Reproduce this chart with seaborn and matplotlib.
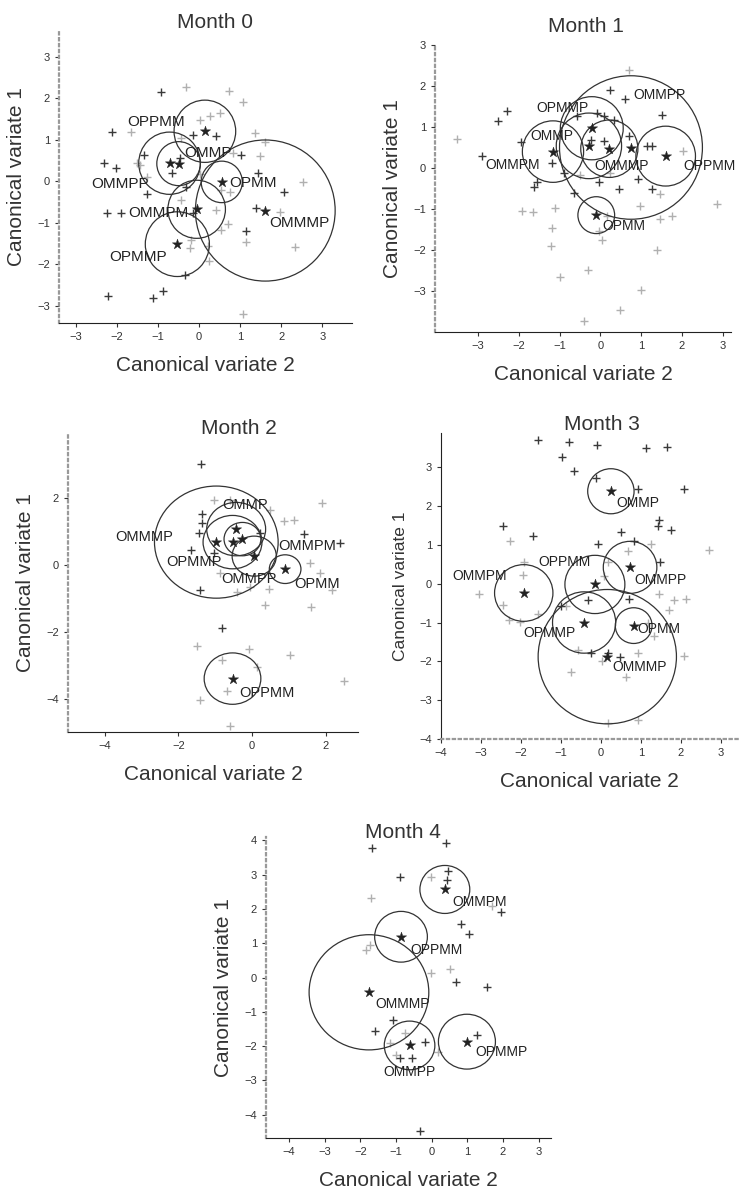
import numpy as np
import pandas as pd
import seaborn as sns
import matplotlib.pyplot as plt
from matplotlib.patches import Circle

# ---- Month 0 ----
m0_dark_x = [-0.93, -2.13, -1.35, -2.31, -2.03, -1.28, -0.67, -0.47, -0.16, 0.42, 1.01, 1.44, 2.06, 1.38,
             1.15, -0.35, -0.88, -1.12, -2.21, -1.91, -2.24, -0.15, -0.31]
m0_dark_y = [2.15, 1.19, 0.64, 0.44, 0.32, -0.30, 0.20, 0.55, 1.11, 1.08, 0.64, 0.19, -0.26, -0.66,
             -1.20, -2.27, -2.66, -2.81, -2.78, -0.78, -0.78, -0.78, -0.14]
m0_light_x = [-0.32, 0.72, 1.07, 0.02, 0.26, 0.50, 1.35, 1.60, 1.48, 0.83, -1.44, -1.52, -1.28, 0.02, 0.54,
              0.75, 0.42, 0.71, 0.54, -0.19, 0.22, 0.24, 1.15, 2.33, 1.96, 2.53, -0.43, -1.65, 1.07, -0.43, -0.23]
m0_light_y = [2.26, 2.17, 1.91, 1.48, 1.56, 1.63, 1.15, 0.95, 0.60, 0.67, 0.39, 0.43, 0.10, 0.18, -0.22,
              -0.26, -0.70, -1.04, -1.18, -1.42, -1.56, -1.92, -1.48, -1.58, -0.75, -0.02, -0.46, 1.19, -3.2, 1.03, -1.62]
m0_groups = ['OMMP', 'OPPMM', 'OMMPP', 'OPMM', 'OMMPM', 'OPMMP', 'OMMMP']
m0_mean_x = [0.14, -0.72, -0.50, 0.55, -0.06, -0.53, 1.61]
m0_mean_y = [1.20, 0.43, 0.42, -0.02, -0.68, -1.52, -0.71]
m0_radius = [0.75, 0.75, 0.53, 0.50, 0.70, 0.78, 1.70]
m0_label_x = [0.22, -1.04, -1.93, 1.31, -1.00, -1.48, 2.45]
m0_label_y = [0.67, 1.43, -0.06, -0.04, -0.78, -1.82, -1.00]

# ---- Month 1 ----
m1_dark_x = [-2.29, -2.50, -2.89, -1.95, -1.63, -1.56, -1.18, -0.88, -0.65, -0.57, 0.08, 0.24, 0.61, 1.50,
             1.26, 1.14, 0.93, 1.26, 0.45, -0.04, 0.69, -0.08, 0.33, -0.24, 0.08]
m1_dark_y = [1.40, 1.14, 0.30, 0.63, -0.47, -0.33, 0.12, -0.12, -0.61, 1.26, 1.26, 1.91, 1.68, 1.30,
             0.53, 0.53, -0.28, -0.51, -0.51, -0.33, 0.77, 1.34, 1.18, 0.69, 0.65]
m1_light_x = [-3.50, -1.91, -1.64, -1.10, -1.18, -1.22, -0.98, -0.30, 0.04, 0.16, -0.04, 0.98, 1.46, 1.45,
              1.75, 1.38, 1.00, 0.49, -0.41, 2.85, 0.69, 2.03, -0.49, 0.24]
m1_light_y = [0.71, -1.04, -1.07, -0.98, -1.47, -1.91, -2.67, -2.48, -1.75, -1.18, -1.54, -0.93, -0.63, -1.24,
              -1.16, -1.99, -2.97, -3.46, -3.74, -0.87, 2.40, 0.41, -0.16, -0.12]
m1_groups = ['OPMMP', 'OMMP', 'OMMPM', 'OMMMP', 'OMMPP', 'OPPMM', 'OPMM']
m1_mean_x = [-0.21, -1.16, -0.28, 0.22, 0.75, 1.60, -0.10]
m1_mean_y = [0.97, 0.40, 0.54, 0.47, 0.50, 0.29, -1.15]
m1_radius = [0.77, 0.75, 0.80, 0.70, 1.75, 0.73, 0.45]
m1_label_x = [-0.93, -1.18, -2.15, 0.53, 1.46, 2.68, 0.57]
m1_label_y = [1.46, 0.77, 0.07, 0.06, 1.79, 0.06, -1.42]

# ---- Month 2 ----
m2_dark_x = [-1.38, -1.37, -1.37, -1.45, -1.66, -1.42, -0.81, 1.40, 2.40, -1.04, 0.23]
m2_dark_y = [3.04, 1.54, 1.26, 0.95, 0.45, -0.73, -1.88, 0.93, 0.65, 0.35, 0.95]
m2_light_x = [-1.04, -0.59, 0.50, 1.13, 1.90, 1.58, 1.86, 2.17, 1.60, 0.36, 0.45, -0.41, 2.51, -1.49, -0.09,
              1.04, -1.40, -0.59, -0.68, -0.81, 0.14, -0.86, -0.05, 0.86]
m2_light_y = [1.96, 1.96, 1.66, 1.36, 1.86, 0.05, -0.23, -0.75, -1.26, -1.20, -0.70, -0.80, -3.48, -2.41, -2.51,
              -2.69, -4.05, -4.82, -3.77, -2.84, -3.06, -0.25, -0.65, 1.31]
m2_groups = ['OMMP', 'OMMMP', 'OMMPM', 'OPMMP', 'OMMPP', 'OPMM', 'OPPMM']
m2_mean_x = [-0.43, -0.97, 0.06, -0.53, -0.26, 0.90, -0.53]
m2_mean_y = [1.08, 0.69, 0.27, 0.69, 0.78, -0.12, -3.40]
m2_radius = [0.80, 1.68, 0.60, 0.80, 0.50, 0.43, 0.77]
m2_label_x = [-0.18, -2.94, 1.49, -1.58, -0.09, 1.76, 0.41]
m2_label_y = [1.81, 0.85, 0.58, 0.08, -0.43, -0.55, -3.82]

# ---- Month 3 ----
m3_dark_x = [-1.57, -0.79, -0.10, 1.13, 1.65, -0.98, -0.68, -0.12, 0.92, 2.08, -2.46, -1.71, 0.50, 1.46,
             1.43, 1.75, -0.07, 0.83, 1.48, -0.32, 0.71, -0.25, 0.17, 0.48, -1.00]
m3_dark_y = [3.69, 3.66, 3.56, 3.49, 3.53, 3.26, 2.89, 2.72, 2.44, 2.44, 1.49, 1.23, 1.32, 1.65,
             1.48, 1.37, 1.03, 1.11, 0.57, -0.43, -0.39, -1.78, -1.78, -1.89, -0.58]
m3_light_x = [-2.27, 2.71, -1.92, -1.96, -3.04, -2.46, -2.29, -2.03, -1.58, -0.88, 0.08, 0.17, 0.67, 1.25,
              1.46, 1.83, 2.13, 1.71, 1.33, 2.08, 0.92, 0.04, -0.75, 0.63, 0.92, -0.58, 0.17, 1.17]
m3_light_y = [1.09, 0.87, 0.57, 0.23, -0.26, -0.54, -0.94, -0.99, -0.77, -0.58, 0.19, 0.55, 0.83, 1.03,
              -0.26, -0.43, -0.39, -0.67, -1.36, -1.87, -1.78, -2.00, -2.28, -2.40, -3.50, -1.70, -3.58, -1.00]
m3_groups = ['OMMP', 'OMMPM', 'OPPMM', 'OMMPP', 'OPMMP', 'OPMM', 'OMMMP']
m3_mean_x = [0.25, -1.93, -0.15, 0.73, -0.42, 0.82, 0.16]
m3_mean_y = [2.38, -0.24, -0.02, 0.42, -1.00, -1.08, -1.88]
m3_radius = [0.58, 0.73, 0.75, 0.67, 0.79, 0.46, 1.73]
m3_label_x = [0.92, -3.04, -0.92, 1.48, -1.29, 1.46, 0.96]
m3_label_y = [2.08, 0.21, 0.57, 0.10, -1.27, -1.18, -2.14]

# ---- Month 4 ----
m4_dark_x = [-1.67, 0.41, -0.88, 0.46, 0.43, 1.96, 1.05, 0.83, 1.54, 0.69, -1.60, -1.09, -0.20, 1.26,
             -0.34, -0.54, -0.90]
m4_dark_y = [3.77, 3.93, 2.93, 3.12, 2.85, 1.91, 1.28, 1.55, -0.27, -0.13, -1.55, -1.24, -1.87, -1.68,
             -4.47, -2.36, -2.36]
m4_light_x = [-1.70, -1.84, -1.74, -0.01, 0.51, -0.01, -0.76, 0.18, 1.68, -0.99, -1.18]
m4_light_y = [2.33, 0.80, 0.94, 2.93, 0.26, 0.12, -1.61, -2.16, 2.10, -2.26, -1.92]
m4_groups = ['OMMPM', 'OPPMM', 'OMMMP', 'OMMPP', 'OPMMP']
m4_mean_x = [0.37, -0.86, -1.76, -0.62, 0.99]
m4_mean_y = [2.57, 1.19, -0.43, -1.98, -1.87]
m4_radius = [0.70, 0.74, 1.68, 0.71, 0.80]
m4_label_x = [1.35, 0.13, -0.81, -0.62, 1.96]
m4_label_y = [2.20, 0.80, -0.76, -2.76, -2.16]

sns.set_style('ticks')
plt.rcParams['font.family'] = ['Liberation Sans', 'DejaVu Sans']

W, H = 748, 1197
fig = plt.figure(figsize=(W / 100, H / 100), dpi=100)


def px_rect(left, top, right, bottom):
    return [left / W, 1 - bottom / H, (right - left) / W, (bottom - top) / H]


panels = [
    dict(title='Month 0', rect=px_rect(59, 30, 352, 323), tpos=(215, 23),
         xlim=(-3.41, 3.72), ylim=(-3.42, 3.64), xticks=range(-3, 4), yticks=range(-3, 4),
         dx=m0_dark_x, dy=m0_dark_y, lx=m0_light_x, ly=m0_light_y, groups=m0_groups,
         mx=m0_mean_x, my=m0_mean_y, r=m0_radius, tx=m0_label_x, ty=m0_label_y, fs=11),
    dict(title='Month 1', rect=px_rect(435, 45, 731, 332), tpos=(586, 27),
         xlim=(-4.05, 3.2), ylim=(-4.0, 3.0), xticks=range(-3, 4), yticks=range(-3, 4),
         dx=m1_dark_x, dy=m1_dark_y, lx=m1_light_x, ly=m1_light_y, groups=m1_groups,
         mx=m1_mean_x, my=m1_mean_y, r=m1_radius, tx=m1_label_x, ty=m1_label_y, fs=10),
    dict(title='Month 2', rect=px_rect(68, 433, 358, 732), tpos=(239, 428),
         xlim=(-5.0, 2.88), ylim=(-5.0, 3.96), xticks=[-4, -2, 0, 2], yticks=[-4, -2, 0, 2],
         dx=m2_dark_x, dy=m2_dark_y, lx=m2_light_x, ly=m2_light_y, groups=m2_groups,
         mx=m2_mean_x, my=m2_mean_y, r=m2_radius, tx=m2_label_x, ty=m2_label_y, fs=10.5),
    dict(title='Month 3', rect=px_rect(441, 433, 738, 739), tpos=(602, 425),
         xlim=(-4.0, 3.43), ylim=(-4.0, 3.88), xticks=range(-4, 4), yticks=range(-4, 4),
         dx=m3_dark_x, dy=m3_dark_y, lx=m3_light_x, ly=m3_light_y, groups=m3_groups,
         mx=m3_mean_x, my=m3_mean_y, r=m3_radius, tx=m3_label_x, ty=m3_label_y, fs=10),
    dict(title='Month 4', rect=px_rect(266, 837, 551, 1138), tpos=(403, 832),
         xlim=(-4.65, 3.35), ylim=(-4.68, 4.1), xticks=range(-4, 4), yticks=range(-4, 5),
         dx=m4_dark_x, dy=m4_dark_y, lx=m4_light_x, ly=m4_light_y, groups=m4_groups,
         mx=m4_mean_x, my=m4_mean_y, r=m4_radius, tx=m4_label_x, ty=m4_label_y, fs=10),
]

for i, p in enumerate(panels):
    ax = fig.add_axes(p['rect'])
    sns.scatterplot(x=p['lx'], y=p['ly'], marker='+', color='#b0b0b0', s=40, linewidth=1.0, ax=ax)
    sns.scatterplot(x=p['dx'], y=p['dy'], marker='+', color='#3a3a3a', s=40, linewidth=1.0, ax=ax)
    means = pd.DataFrame({'group': p['groups'], 'x': p['mx'], 'y': p['my']})
    sns.scatterplot(data=means, x='x', y='y', marker='*', color='#222222', s=60,
                    edgecolor='#222222', linewidth=0.3, ax=ax, zorder=4)
    for cx, cy, rad in zip(p['mx'], p['my'], p['r']):
        ax.add_patch(Circle((cx, cy), rad, fill=False, edgecolor='#333333', linewidth=0.9, zorder=3))
    for name, tx, ty in zip(p['groups'], p['tx'], p['ty']):
        ax.text(tx, ty, name, fontsize=p['fs'], color='#222222', ha='center', va='center',
                zorder=5, clip_on=False)

    ax.set_xlim(*p['xlim'])
    ax.set_ylim(*p['ylim'])
    ax.set_xticks(list(p['xticks']))
    ax.set_yticks(list(p['yticks']))
    ax.tick_params(labelsize=8, length=3, width=0.8, colors='#333333')
    ax.set_xlabel('Canonical variate 2', fontsize=15, color='#333333', labelpad=10)
    ax.set_ylabel('Canonical variate 1', fontsize=15, color='#333333', labelpad=8)
    sns.despine(ax=ax)
    if i == 3:
        ax.spines['left'].set_color('#222222')
        ax.spines['bottom'].set_color('#999999')
        ax.spines['bottom'].set_linestyle(':')
        ax.spines['bottom'].set_linewidth(1.6)
        ax.yaxis.label.set_size(12.5)
    else:
        ax.spines['left'].set_color('#999999')
        ax.spines['left'].set_linestyle(':')
        ax.spines['left'].set_linewidth(1.6)
        ax.spines['bottom'].set_color('#222222')
    fig.text(p['tpos'][0] / W, 1 - p['tpos'][1] / H, p['title'], fontsize=15,
             color='#333333', ha='center', va='center')

fig.savefig('out.png', dpi=100)
